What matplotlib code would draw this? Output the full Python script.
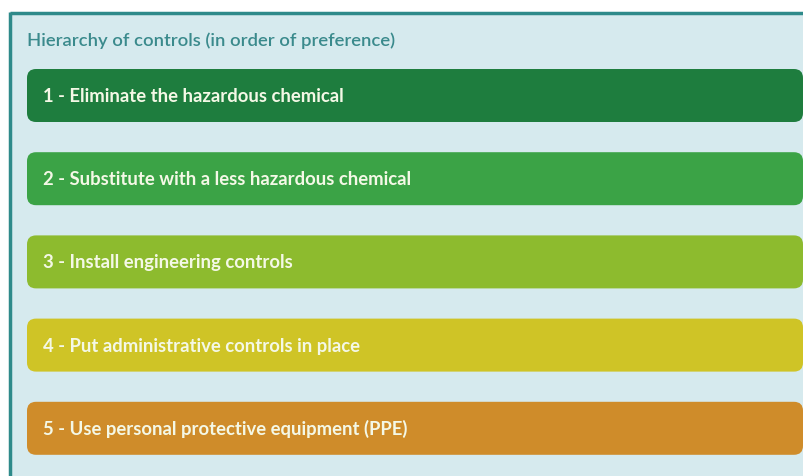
import matplotlib
matplotlib.use("Agg")
import matplotlib.pyplot as plt
from matplotlib.patches import FancyBboxPatch, Rectangle

title = "Hierarchy of controls (in order of preference)"
steps = [
    "1 - Eliminate the hazardous chemical",
    "2 - Substitute with a less hazardous chemical",
    "3 - Install engineering controls",
    "4 - Put administrative controls in place",
    "5 - Use personal protective equipment (PPE)",
]
colors = ["#1e7d3e", "#3ba346", "#8dbb2e", "#cfc426", "#cf8c2a"]

W, H = 804, 477
fig = plt.figure(figsize=(W / 100, H / 100), dpi=100)
fig.patch.set_facecolor("white")
ax = fig.add_axes([0, 0, 1, 1])
ax.set_xlim(0, W)
ax.set_ylim(H, 0)
ax.axis("off")

# panel
ax.add_patch(Rectangle((12, 14), W - 12, H - 14, facecolor="#d6eaee", edgecolor="none"))
ax.plot([10.5, W], [13.5, 13.5], color="#2e8a8a", lw=2.5, solid_capstyle="butt")
ax.plot([10.5, 10.5], [12.5, H], color="#2e8a8a", lw=2.5, solid_capstyle="butt")

ax.text(27, 41, title, color="#3a8a8c", fontsize=13.3, family="Lato",
        fontweight="semibold", va="center", ha="left")

x0, x1 = 27, 803
top0, step, bh = 70, 83.2, 53
for i, (lab, col) in enumerate(zip(steps, colors)):
    y = top0 + i * step
    ax.add_patch(FancyBboxPatch((x0, y), x1 - x0, bh,
                                boxstyle="round,pad=0,rounding_size=9",
                                facecolor=col, edgecolor="none"))
    ax.text(43, y + bh / 2, lab, color="#f4f8e6", fontsize=13.3, family="Lato",
            fontweight="bold", va="center", ha="left")

fig.savefig("out.png", dpi=100, facecolor="white")
